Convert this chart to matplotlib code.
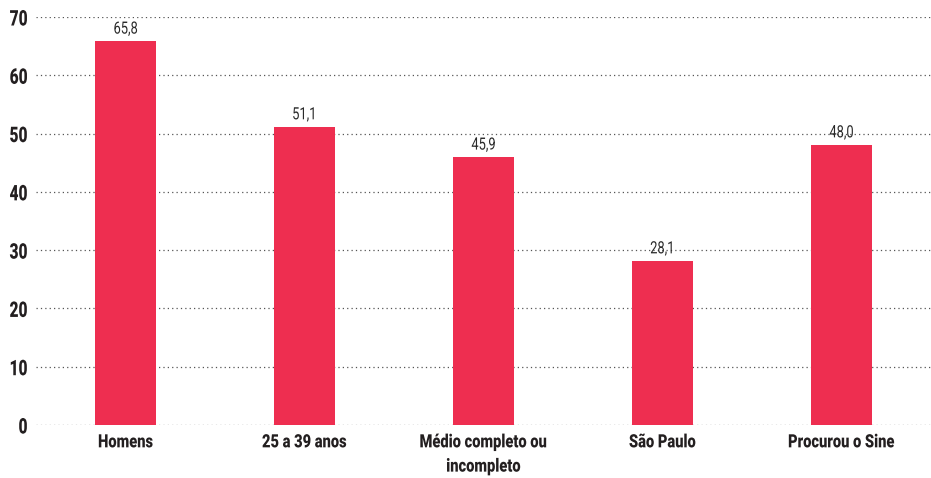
import matplotlib
matplotlib.use("Agg")
import matplotlib.pyplot as plt
from matplotlib.patheffects import AbstractPathEffect
from matplotlib.transforms import Affine2D

categories = ["Homens", "25 a 39 anos", "Médio completo ou\nincompleto", "São Paulo", "Procurou o Sine"]
values = [65.8, 51.1, 45.9, 28.1, 48.0]
value_labels = ["65,8", "51,1", "45,9", "28,1", "48,0"]
yticks = [0, 10, 20, 30, 40, 50, 60, 70]

plt.rcParams['font.family'] = ["Roboto", "DejaVu Sans"]


class Condense(AbstractPathEffect):
    """Horizontally condense glyph outlines around an anchor (text stays text)."""
    def __init__(self, sx=0.8, anchor="center"):
        super().__init__()
        self.sx = sx
        self.anchor = anchor

    def draw_path(self, renderer, gc, tpath, affine, rgbFace=None):
        try:
            ext = tpath.get_extents(affine)
            if self.anchor == "center":
                cx = (ext.x0 + ext.x1) / 2
            elif self.anchor == "right":
                cx = ext.x1
            else:
                cx = ext.x0
        except Exception:
            cx = 0
        t = affine + Affine2D().translate(-cx, 0).scale(self.sx, 1).translate(cx, 0)
        renderer.draw_path(gc, tpath, t, rgbFace)


W, H = 931, 478
fig = plt.figure(figsize=(W/100, H/100), dpi=100)
ax = fig.add_axes([36/W, 53/H, (W-36)/W, (425-17)/H])

x = list(range(len(categories)))
ax.bar(x, values, width=0.346, color="#EE2E50", zorder=3)
ax.set_xlim(-0.5, len(categories)-0.5)
ax.set_ylim(0, 70)
ax.set_yticks(yticks)
ax.set_yticklabels([str(v) for v in yticks], fontsize=15.5, fontweight="black", color="#231F20")
ax.set_xticks(x)
ax.set_xticklabels(categories, fontsize=13.2, fontweight="black", color="#231F20", linespacing=1.45)
ax.tick_params(axis="both", length=0)
ax.tick_params(axis="y", pad=6)
ax.tick_params(axis="x", pad=6)
for lab in ax.get_yticklabels():
    lab.set_path_effects([Condense(0.72, "right")])
for lab in ax.get_xticklabels():
    lab.set_path_effects([Condense(0.8, "center")])
for s in ax.spines.values():
    s.set_visible(False)
ax.grid(axis="y", color="#555555", linestyle=(0, (1, 2.5)), linewidth=0.9, zorder=0)
for xi, v, lab in zip(x, values, value_labels):
    t = ax.annotate(lab, (xi, v), xytext=(0, 3.5), textcoords="offset points", ha="center", va="bottom",
                    fontsize=12.2, fontweight="normal", color="#2a2a2a", zorder=4)
    t.set_path_effects([Condense(0.76, "center")])
fig.savefig("out.png", dpi=100)
